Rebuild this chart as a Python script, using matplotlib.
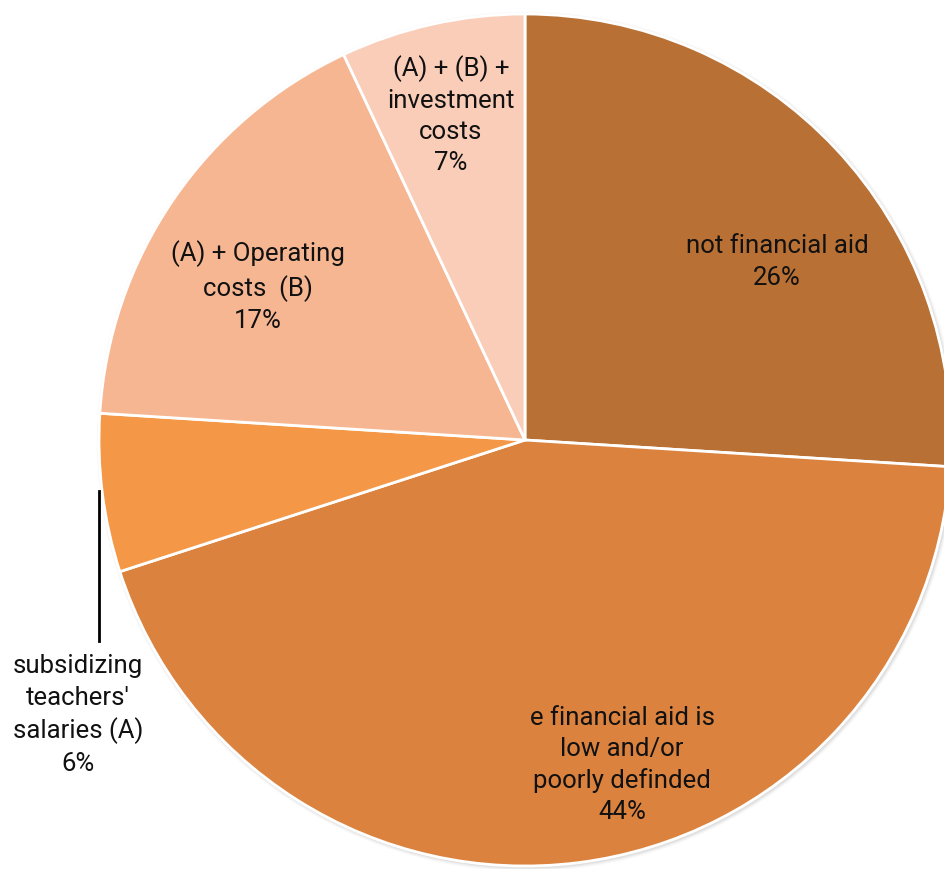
import matplotlib.pyplot as plt
from matplotlib.patches import Circle

# Slice data (clockwise from 12 o'clock)
labels = ["not financial aid", "e financial aid is\nlow and/or\npoorly defindеd",
          "subsidizing\nteachers'\nsalaries (A)", "(A) + Operating\ncosts  (B)",
          "(A) + (B) +\ninvestment\ncosts"]
labels[1] = labels[1].replace("е", "e")
values = [26, 44, 6, 17, 7]
colors = ["#B87034", "#DB833E", "#F49848", "#F7B692", "#FACDB9"]

# label anchor points in pixel space (x, y from top)
label_pos = [(777, 262), (622, 765), (78, 715), (258, 287), (451, 115)]

W, H = 944, 870
cx, cy, R = 525, H - 441, 426

plt.rcParams['font.family'] = ['Roboto', 'DejaVu Sans']

fig = plt.figure(figsize=(W / 100, H / 100), dpi=100)
ax = fig.add_axes([0, 0, 1, 1])

# soft shadow behind the pie
for i, a in enumerate([0.10, 0.07, 0.05, 0.03]):
    ax.add_patch(Circle((cx + 1.5, cy - 1.5), R + 1 + i, color="#808080",
                        alpha=a, lw=0, zorder=0))

ax.pie(values, colors=colors, startangle=90, counterclock=False,
       center=(cx, cy), radius=R,
       wedgeprops=dict(edgecolor="white", linewidth=2, zorder=1))

for lab, v, (x, y) in zip(labels, values, label_pos):
    ax.text(x, H - y, f"{lab}\n{v}%", ha="center", va="center",
            fontsize=18.5, color="#111111", linespacing=1.38, zorder=3)

# leader line for the small slice
ax.plot([99, 99], [H - 492, H - 642], color="black", lw=2, zorder=3)

ax.set_xlim(0, W)
ax.set_ylim(0, H)
ax.set_aspect("equal")
ax.axis("off")

plt.savefig("out.png", dpi=100)
